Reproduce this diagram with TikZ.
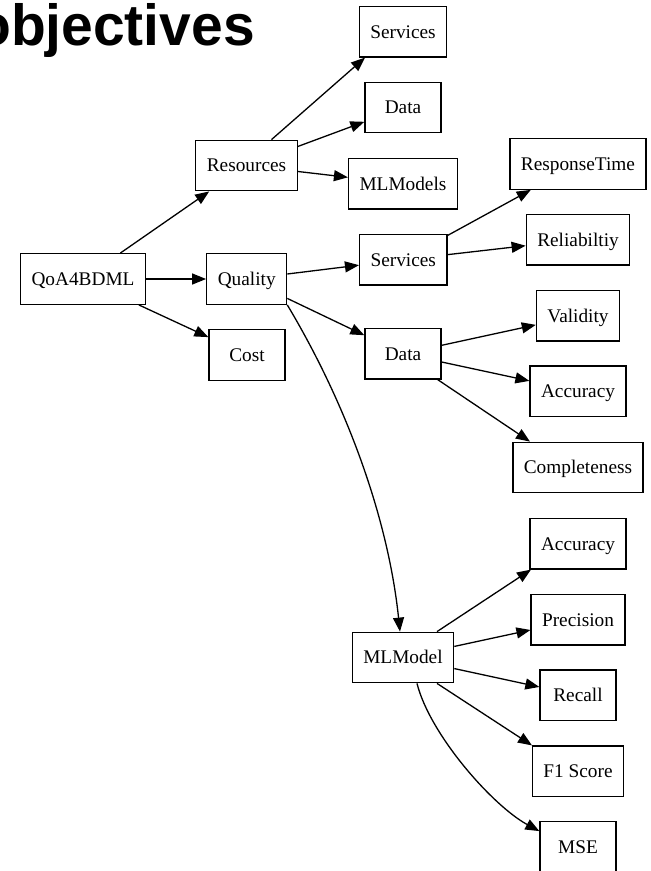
\documentclass[tikz,border=0pt]{standalone}
\usepackage{fontspec}
\setmainfont{Liberation Serif}
\newfontfamily\titlefont{Liberation Sans}
\usetikzlibrary{arrows.meta}
\begin{document}
\begin{tikzpicture}[x=1pt,y=-1pt,
  box/.style={draw, line width=1.3pt, inner xsep=11pt, inner ysep=0pt,
    minimum width=76pt, minimum height=50.5pt,
    text height=12.8pt, text depth=0pt,
    font=\fontsize{19.3}{22}\selectfont},
  link/.style={line width=1.3pt, -{Triangle[length=14pt,width=11pt]}}]
\useasboundingbox (0,0) rectangle (651,871);
\clip (0,0) rectangle (651,871);

% heading, running off the left edge
\node[anchor=base east, inner sep=0pt,
  font=\titlefont\bfseries\fontsize{58}{60}\selectfont] (title) at (255,45)
  {\scalebox{0.982}[1]{objectives}};

% root and first level
\node[box] (q)    at (83,279)    {QoA4BDML};
\node[box] (res)  at (246.5,165.5) {Resources};
\node[box] (qual) at (246.7,279) {Quality};
\node[box] (cost) at (247,355)   {Cost};

% second level
\node[box] (rsv)   at (403,31.7)  {Services};
\node[box] (rdata) at (403,107.5) {Data};
\node[box] (rml)   at (403,183.7) {MLModels};
\node[box] (qsv)   at (403.3,259.7) {Services};
\node[box] (qdata) at (403,353.7) {Data};
\node[box] (qml)   at (403,657.5) {MLModel};

% leaves
\node[box] (rt)   at (578,164)   {ResponseTime};
\node[box] (rel)  at (578,239.7) {Reliabiltiy};
\node[box] (val)  at (578,315.7) {Validity};
\node[box] (dacc) at (578,391.3) {Accuracy};
\node[box] (comp) at (578,467.5) {Completeness};
\node[box] (macc) at (578,543.7) {Accuracy};
\node[box] (prec) at (578,619.7) {Precision};
\node[box] (rec)  at (578,695.3) {Recall};
\node[box] (f1)   at (578,771.3) {F1 Score};
\node[box] (mse)  at (578,847)   {MSE};

% connectors
\draw[link] (q) -- (res);
\draw[link] (q) -- (qual);
\draw[link] (q) -- (cost);

\draw[link] ([xshift=25pt]res.north) -- ([xshift=-38pt]rsv.south);
\draw[link] (res) -- (rdata);
\draw[link] (res) -- (rml);

\draw[link] (qual) -- (qsv);
\draw[link] (qual) -- (qdata);
\draw[link] (qual.south east) .. controls (346,403) and (388,517) .. ([xshift=-3pt]qml.north);

\draw[link] (qsv) -- (rt);
\draw[link] (qsv) -- (rel);

\draw[link] (qdata) -- (val);
\draw[link] (qdata) -- (dacc);
\draw[link] ([xshift=-4pt]qdata.south east) -- ([xshift=-48pt]comp.north);

\draw[link] ([xshift=34pt]qml.north) -- ([xshift=-47pt]macc.south);
\draw[link] (qml) -- (prec);
\draw[link] (qml) -- (rec);
\draw[link] ([xshift=34pt]qml.south) -- ([xshift=-46pt]f1.north);
\draw[link] ([xshift=14pt]qml.south) .. controls (430,735) and (493,806) .. ([yshift=-10pt]mse.north west);
\end{tikzpicture}
\end{document}
